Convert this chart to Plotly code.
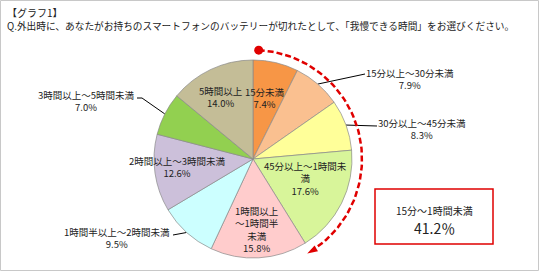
import numpy as np
import plotly.graph_objects as go

# ---- data ----
categories = ["15分未満", "15分以上～30分未満", "30分以上～45分未満", "45分以上～1時間未満",
              "1時間以上～1時間半未満", "1時間半以上～2時間未満", "2時間以上～3時間未満",
              "3時間以上～5時間未満", "5時間以上"]
values = [7.4, 7.9, 8.3, 17.6, 15.8, 9.5, 12.6, 7.0, 14.0]
label_texts = ["15分未満", "15分以上～30分未満", "30分以上～45分未満", "45分以上～1時間未<br>満",
               "1時間以上<br>～1時間半<br>未満", "1時間半以上～2時間未満", "2時間以上～3時間未満",
               "3時間以上～5時間未満", "5時間以上"]
colors = ["#F79646", "#FAC090", "#FFFF99", "#D8F59A", "#FFCCCC", "#CCFFFF", "#CCC0DA", "#92D050", "#C4BD97"]
title1 = "【グラフ1】"
title2 = "Q.外出時に、あなたがお持ちのスマートフォンのバッテリーが切れたとして、「我慢できる時間」をお選びください。"
box_label = "15分～1時間未満"
n_highlight = 4  # first four slices summed in the box

# ---- layout constants (pixels) ----
W, H = 540, 272
cx, cy, R = 253, 159, 99
FONT = "Noto Sans CJK JP"
# label anchor positions (pixels) and leader-line end points
label_pos = [(265, 98), (410, 79), (422, 129), (305, 178), (257, 229),
             (117, 238), (177, 167), (86, 101), (221, 97)]
leader = {1: [(365, 74)], 2: [(377, 126)], 5: [(173, 235)], 7: [(142, 98), (137, 98)]}

vals = np.array(values)
cum = np.concatenate([[0], np.cumsum(vals)]) / vals.sum() * 360.0
mid = (cum[:-1] + cum[1:]) / 2.0


def pt(theta_deg, r):
    t = np.radians(theta_deg)
    return cx + r * np.sin(t), cy - r * np.cos(t)


fig = go.Figure()
fig.add_trace(go.Pie(
    labels=categories, values=values, sort=False, direction="clockwise", rotation=0,
    marker=dict(colors=colors, line=dict(color="#8a8a8a", width=0.7)),
    textinfo="none", hoverinfo="skip", showlegend=False,
    domain=dict(x=[(cx - R) / W, (cx + R) / W], y=[1 - (cy + R) / H, 1 - (cy - R) / H]),
))

# leader lines
for i, ends in leader.items():
    x0, y0 = pt(mid[i], R)
    xs = [x0] + [e[0] for e in ends]
    ys = [y0] + [e[1] for e in ends]
    fig.add_trace(go.Scatter(x=xs, y=ys, mode="lines", line=dict(color="black", width=1),
                             hoverinfo="skip", showlegend=False))

# red dashed arc over the highlighted slices
ar = 109
th = np.linspace(3, cum[n_highlight] - 1, 80)
ax_, ay_ = pt(th, ar)
fig.add_trace(go.Scatter(x=ax_, y=ay_, mode="lines", line=dict(color="#E00000", width=2.5, dash="6px,3px"),
                         hoverinfo="skip", showlegend=False))
sx, sy = pt(3, ar)
fig.add_trace(go.Scatter(x=[sx], y=[sy], mode="markers", marker=dict(color="#E00000", size=9),
                         hoverinfo="skip", showlegend=False))
ex, ey = pt(cum[n_highlight] + 2, ar)
fig.add_trace(go.Scatter(x=[ex], y=[ey], mode="markers",
                         marker=dict(color="#E00000", size=11, symbol="arrow", angle=cum[n_highlight] + 92),
                         hoverinfo="skip", showlegend=False))

ann = []
for i in range(len(values)):
    x, y = label_pos[i]
    ann.append(dict(x=x, y=y, xref="x", yref="y", showarrow=False, borderpad=0,
                    text=f"{label_texts[i]}<br>{values[i]:.1f}%", align="center",
                    font=dict(family=FONT, size=9.5, color="#222")))
ann.append(dict(x=6, y=12.5, xref="x", yref="y", xanchor="left", showarrow=False, text=title1, borderpad=0,
                font=dict(family=FONT, size=10, color="#222")))
ann.append(dict(x=6, y=26, xref="x", yref="y", xanchor="left", showarrow=False, text=title2, borderpad=0,
                font=dict(family=FONT, size=9.7, color="#222")))
total = sum(values[:n_highlight])
ann.append(dict(x=434, y=210, xref="x", yref="y", showarrow=False, text=box_label, borderpad=0,
                font=dict(family=FONT, size=10, color="#222")))
ann.append(dict(x=434, y=228, xref="x", yref="y", showarrow=False, text=f"{total:.1f}％", borderpad=0,
                font=dict(family=FONT, size=14, color="#222")))

shapes = [
    dict(type="rect", xref="x", yref="y", x0=0.5, x1=538.5, y0=0.5, y1=270.5,
         line=dict(color="#C8C8C8", width=1)),
    dict(type="rect", xref="x", yref="y", x0=375, x1=493, y0=189, y1=244,
         line=dict(color="#E00000", width=1.5)),
]

fig.update_layout(
    width=W, height=H, margin=dict(l=0, r=0, t=0, b=0),
    paper_bgcolor="white", plot_bgcolor="rgba(0,0,0,0)",
    xaxis=dict(range=[0, W], visible=False, fixedrange=True),
    yaxis=dict(range=[H, 0], visible=False, fixedrange=True),
    annotations=ann, shapes=shapes, showlegend=False,
)
fig.write_html("out.html")
